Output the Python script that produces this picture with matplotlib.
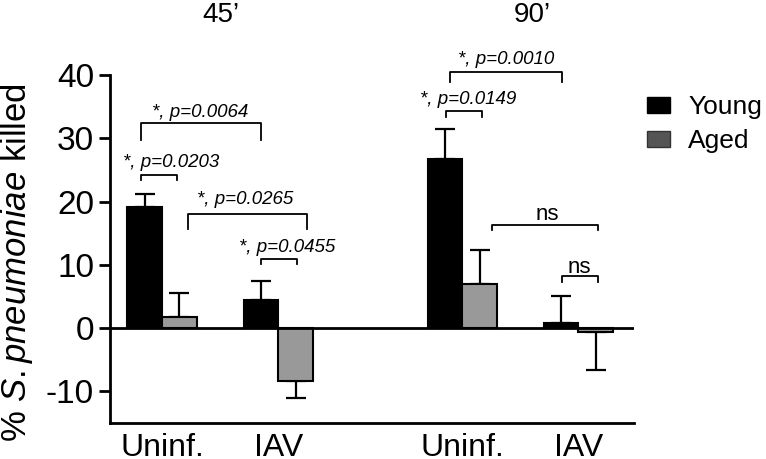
import matplotlib
matplotlib.use('Agg')
import matplotlib.pyplot as plt
from matplotlib.patches import Patch

plt.rcParams['font.family'] = ['Liberation Sans', 'DejaVu Sans']
plt.rcParams['mathtext.fontset'] = 'custom'
plt.rcParams['mathtext.it'] = 'Liberation Sans:italic'
plt.rcParams['mathtext.rm'] = 'Liberation Sans'

# data
groups = ['Uninf.', 'IAV', 'Uninf.', 'IAV']
group_x = [1.5, 4.85, 10.15, 13.5]
young = [19.1, 4.4, 26.7, 0.8]
young_err = [2.1, 3.1, 4.7, 4.2]
aged = [1.7, -8.3, 7.0, -0.6]
aged_err = [3.9, 2.7, 5.4, 6.1]
time_labels = ["45\u2019", "90\u2019"]

# (x1, x2, y_top, drop, label, text_x, text_y)
brackets = [
    (0.89, 1.93, 24.2, 0.8, '*, p=0.0203', 1.76, 26.1),
    (0.89, 4.35, 32.4, 2.7, '*, p=0.0064', 2.59, 34.0),
    (2.25, 5.68, 18.0, 2.4, '*, p=0.0265', 3.89, 20.4),
    (4.35, 5.39, 10.9, 0.8, '*, p=0.0455', 5.10, 12.8),
    (9.68, 10.72, 34.3, 1.0, '*, p=0.0149', 10.32, 36.2),
    (9.80, 13.03, 40.5, 1.6, '*, p=0.0010', 11.41, 42.5),
    (11.01, 14.06, 16.3, 0.8, 'ns', 12.59, 17.9),
    (13.03, 14.06, 8.2, 0.9, 'ns', 13.52, 9.6),
]

fig = plt.figure(figsize=(7.66, 4.59), dpi=100)
ax = fig.add_axes([0.1436, 0.0784, 0.6841, 0.7582])

yx = [g - 0.5 for g in group_x]
ax_ = [g + 0.5 for g in group_x]
ax.bar(yx, young, width=1.0, color='black', edgecolor='black', linewidth=1.5, zorder=2)
ax.bar(ax_, aged, width=1.0, color='#999999', edgecolor='black', linewidth=1.5, zorder=2)


def one_sided(vals, errs):
    lo = [e if v < 0 else 0 for v, e in zip(vals, errs)]
    hi = [e if v >= 0 else 0 for v, e in zip(vals, errs)]
    return [lo, hi]


for xs, vals, errs in [(yx, young, young_err), (ax_, aged, aged_err)]:
    ax.errorbar(xs, vals, yerr=one_sided(vals, errs), fmt='none', ecolor='black',
                elinewidth=1.6, capsize=7.5, capthick=1.6, zorder=1)

ax.axhline(0, color='black', linewidth=2, zorder=3)

for x1, x2, y, d, lab, tx, ty in brackets:
    ax.plot([x1, x1, x2, x2], [y - d, y, y, y - d], color='black', lw=1.3, clip_on=False)
    if lab == 'ns':
        ax.text(tx, ty, lab, ha='center', va='center', fontsize=16)
    else:
        ax.text(tx, ty, lab, ha='center', va='center', fontsize=13.5, style='italic')

ax.set_xlim(0, 15.1)
ax.set_ylim(-15, 40)
ax.set_yticks([-10, 0, 10, 20, 30, 40])
ax.set_yticklabels(['-10', '0', '10', '20', '30', '40'])
ax.set_xticks(group_x)
ax.set_xticklabels(groups)
ax.tick_params(axis='y', labelsize=24, length=8, width=2)
ax.tick_params(axis='x', labelsize=23, length=0, pad=7)
ax.spines['top'].set_visible(False)
ax.spines['right'].set_visible(False)
ax.spines['left'].set_linewidth(2)
ax.spines['bottom'].set_linewidth(2)
ax.set_ylabel('% $\\it{S.pneumoniae}$ killed', fontsize=25)
ax.yaxis.set_label_coords(-0.143, 0.46)

fig.text(0.2885, 0.967, time_labels[0], ha='center', va='center', fontsize=20)
fig.text(0.6945, 0.967, time_labels[1], ha='center', va='center', fontsize=20)

handles = [Patch(facecolor='black', edgecolor='black'),
           Patch(facecolor='#555555', edgecolor='#333333')]
fig.legend(handles, ['Young', 'Aged'], loc='upper left', bbox_to_anchor=(0.845, 0.792),
           frameon=False, fontsize=19, handlelength=0.85, handleheight=0.55,
           handletextpad=0.7, labelspacing=0.38, borderpad=0, borderaxespad=0)

fig.savefig('out.png', dpi=100)
